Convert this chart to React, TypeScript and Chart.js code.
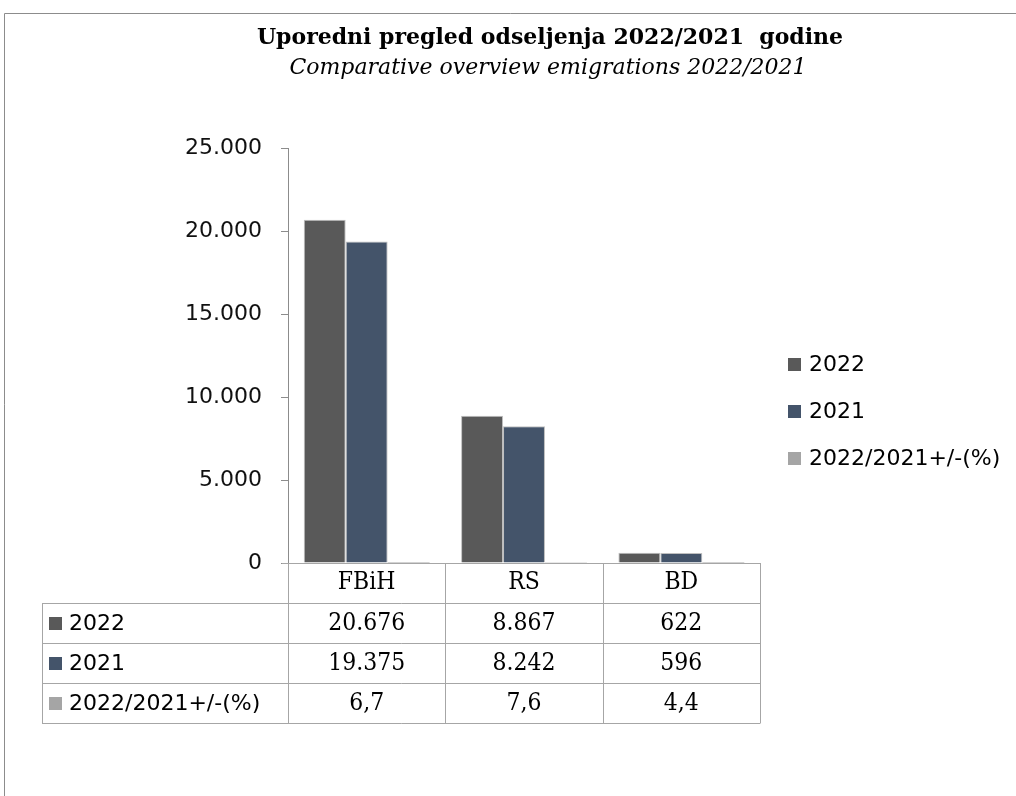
import React, { useEffect, useRef } from "react";
import { Chart, registerables } from "chart.js";

Chart.register(...registerables);

const categories = ["FBiH", "RS", "BD"];
const seriesNames = ["2022", "2021", "2022/2021+/-(%)"];
const values2022 = [20676, 8867, 622];
const values2021 = [19375, 8242, 596];
const valuesPct = [6.7, 7.6, 4.4];
const yTicks = [0, 5000, 10000, 15000, 20000, 25000];
const titleText = "Uporedni pregled odseljenja 2022/2021  godine";
const subtitleText = "Comparative overview emigrations 2022/2021";

const colors = ["#595959", "#44546A", "#A5A5A5"];

function fmtInt(n: number): string {
  return String(Math.round(n)).replace(/\B(?=(\d{3})+(?!\d))/g, ".");
}
function fmtDec(n: number): string {
  return n.toFixed(1).replace(".", ",");
}

const SANS = "'DejaVu Sans', sans-serif";
const SERIF = "'DejaVu Serif', serif";

function tallText(ctx: any, text: string, x: number, y: number, sy: number) {
  ctx.save();
  ctx.translate(x, y);
  ctx.scale(1, sy);
  ctx.fillText(text, 0, 0);
  ctx.restore();
}

const decorPlugin = {
  id: "decor",
  afterDraw(chart: any) {
    const ctx = chart.ctx;
    const area = chart.chartArea;
    const xScale = chart.scales.x;
    ctx.save();
    // outer frame
    ctx.strokeStyle = "#8C8C8C";
    ctx.lineWidth = 1;
    ctx.beginPath();
    ctx.moveTo(4.5, 796);
    ctx.lineTo(4.5, 13.5);
    ctx.lineTo(1016, 13.5);
    ctx.stroke();

    // title
    ctx.fillStyle = "#000";
    ctx.textAlign = "center";
    ctx.textBaseline = "middle";
    ctx.font = "bold 22px " + SERIF;
    tallText(ctx, titleText, 550, 38, 1.05);
    ctx.font = "italic 22px " + SERIF;
    tallText(ctx, subtitleText, 548, 68, 1.05);

    // data table
    const rowH = 40;
    const top = area.bottom;
    const left = 42;
    const right = area.right;
    const nRows = seriesNames.length;
    ctx.strokeStyle = "#A6A6A6";
    ctx.beginPath();
    ctx.moveTo(area.left - 6, top + 0.5);
    ctx.lineTo(right, top + 0.5);
    for (let r = 1; r <= nRows + 1; r++) {
      const y = Math.round(top + r * rowH) + 0.5;
      ctx.moveTo(left, y);
      ctx.lineTo(right + 0.5, y);
    }
    ctx.moveTo(left + 0.5, top + rowH);
    ctx.lineTo(left + 0.5, top + (nRows + 1) * rowH);
    const n = categories.length;
    const catW = (area.right - area.left) / n;
    for (let c = 0; c <= n; c++) {
      const x = Math.round(area.left + c * catW) + 0.5;
      ctx.moveTo(x, top);
      ctx.lineTo(x, top + (nRows + 1) * rowH);
    }
    ctx.stroke();

    // header labels
    ctx.fillStyle = "#000";
    ctx.textAlign = "center";
    ctx.font = "22px " + SERIF;
    categories.forEach((c, i) => {
      const cx = xScale.getPixelForValue(i);
      tallText(ctx, c, cx, top + rowH / 2, 1.1);
    });
    const rows = [values2022, values2021, valuesPct];
    rows.forEach((vals, r) => {
      const cy = top + (r + 1) * rowH + rowH / 2;
      ctx.fillStyle = colors[r];
      ctx.fillRect(49, Math.round(cy - 6), 13, 13);
      ctx.fillStyle = "#000";
      ctx.textAlign = "left";
      ctx.font = "22px " + SANS;
      ctx.fillText(seriesNames[r], 69, cy + 1);
      ctx.textAlign = "center";
      ctx.font = "22px " + SERIF;
      vals.forEach((v, i) => {
        const cx = xScale.getPixelForValue(i);
        tallText(ctx, r === 2 ? fmtDec(v) : fmtInt(v), cx, cy + 1, 1.1);
      });
    });

    // legend
    const legY = [364, 411, 458];
    seriesNames.forEach((s, i) => {
      ctx.fillStyle = colors[i];
      ctx.fillRect(788, legY[i] - 6, 13, 13);
      ctx.fillStyle = "#000";
      ctx.textAlign = "left";
      ctx.font = "22px " + SANS;
      ctx.fillText(s, 809, legY[i] + 1);
    });
    ctx.restore();
  },
};

export default function App() {
  const ref = useRef<HTMLCanvasElement | null>(null);
  useEffect(() => {
    if (!ref.current) return;
    const chart = new Chart(ref.current, {
      type: "bar",
      data: {
        labels: categories,
        datasets: [
          { label: seriesNames[0], data: values2022, backgroundColor: colors[0], borderColor: "#BFBFBF", borderWidth: 1 },
          { label: seriesNames[1], data: values2021, backgroundColor: colors[1], borderColor: "#BFBFBF", borderWidth: 1 },
          { label: seriesNames[2], data: valuesPct, backgroundColor: colors[2], borderWidth: 0, inflateAmount: 0 },
        ],
      },
      options: {
        responsive: false,
        animation: false,
        devicePixelRatio: 1,
        layout: { padding: { left: 0, top: 148, right: 256, bottom: 233 } },
        datasets: { bar: { barPercentage: 1, categoryPercentage: 0.8 } },
        plugins: { legend: { display: false }, title: { display: false }, tooltip: { enabled: false } },
        scales: {
          x: { display: false },
          y: {
            min: 0,
            max: 25000,
            afterFit: (s: any) => { s.width = 288; },
            afterBuildTicks: (s: any) => { s.ticks = yTicks.map((v) => ({ value: v })); },
            grid: { drawOnChartArea: false, drawTicks: true, tickLength: 7, color: "#8C8C8C" },
            border: { display: true, color: "#8C8C8C" },
            ticks: {
              padding: 19,
              color: "#111",
              font: { family: SANS, size: 22 },
              callback: (v: any) => fmtInt(Number(v)),
            },
          },
        },
      },
      plugins: [decorPlugin],
    });
    return () => chart.destroy();
  }, []);
  return (
    <div style={{ position: "absolute", left: 0, top: 0, width: 1016, height: 796, background: "#fff" }}>
      <canvas ref={ref} width={1016} height={796} style={{ display: "block" }} />
    </div>
  );
}
